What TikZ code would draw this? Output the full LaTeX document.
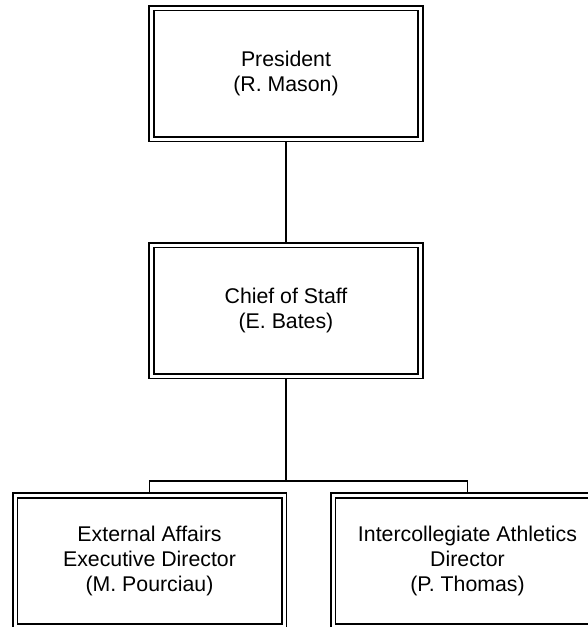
\documentclass[tikz,border=0pt]{standalone}
\usepackage{fontspec}
\setmainfont{Liberation Sans}
\tikzset{
  post/.style={draw, double, double distance=3pt, line width=1.9pt,
    minimum width=269pt, minimum height=131pt, inner sep=0pt, outer sep=3.4pt,
    align=center, font=\fontsize{21.3}{25}\selectfont},
  wire/.style={line width=1.9pt}
}
\begin{document}
\begin{tikzpicture}[x=1pt,y=-1pt]
\useasboundingbox (0,0) rectangle (587,627);
\node[post] (pres) at (286,73.5) {President\\(R. Mason)};
\node[post] (chief) at (286,310.5) {Chief of Staff\\(E. Bates)};
\node[post] (ext) at (149.5,561) {External Affairs\\Executive Director\\(M. Pourciau)};
\node[post] (ath) at (467.5,561) {Intercollegiate Athletics\\Director\\(P. Thomas)};
\coordinate (split) at (286,481);
\draw[wire] (pres) -- (chief);
\draw[wire] (chief) -- (split);
\draw[wire] (ext.north) |- (split) -| (ath.north);
\end{tikzpicture}
\end{document}
